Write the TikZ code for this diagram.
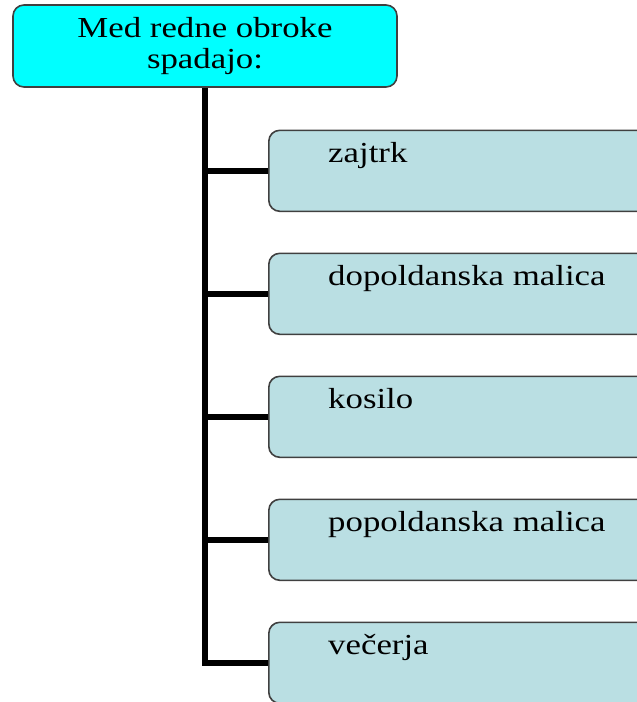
\documentclass[tikz,border=0pt]{standalone}
\usepackage{fontspec}
\setmainfont{Liberation Serif}[FakeStretch=1.2]
\usepackage{tikz}
\usetikzlibrary{calc}
\definecolor{headcyan}{RGB}{0,255,255}
\definecolor{mealblue}{RGB}{186,223,227}
\tikzset{
  headbox/.style={draw=black!75, line width=1.6pt, rounded corners=11pt,
    fill=headcyan, minimum width=384pt, minimum height=82pt, inner sep=0pt,
    align=center, font=\fontsize{29}{31}\selectfont},
  mealbox/.style={draw=black!75, line width=1.6pt, rounded corners=11pt,
    fill=mealblue, minimum width=420pt, minimum height=81pt, anchor=north west},
  mealtext/.style={anchor=base west, inner sep=0pt, font=\fontsize{29}{31}\selectfont},
  trunk/.style={line width=6pt}
}

\begin{document}
\begin{tikzpicture}[x=1pt,y=-1pt]

\useasboundingbox (0,0) rectangle (637,702);
\clip (0,0) rectangle (637,702);

\node[headbox] (head) at (205,46) {Med redne obroke\\spadajo:};

  \foreach \meal [count=\i] in {zajtrk,dopoldanska malica,kosilo,popoldanska malica,večerja}{
     \node[mealbox] (meal\i) at (268,{129.5+123*(\i-1)}) {};
     \node[mealtext] (label\i) at ([shift={(60pt,-32.5pt)}]meal\i.north west) {\meal};
  }

% connectors
\draw[trunk] (head.south) -- (meal5.west -| head.south) -- (meal5.west);
  \foreach \i in {1,...,4}{
     \draw[trunk] (meal\i.west -| head.south) -- (meal\i.west);
  }

\end{tikzpicture}
\end{document}
